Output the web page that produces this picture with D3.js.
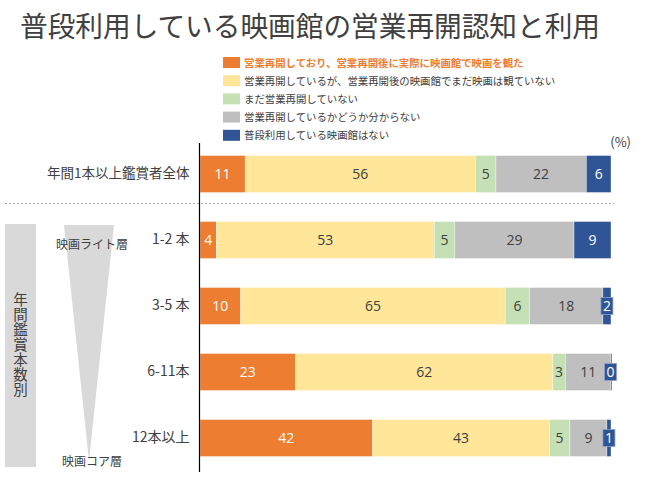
<!DOCTYPE html>
<html><head><meta charset="utf-8">
<script src="https://cdn.jsdelivr.net/npm/d3@7"></script>
<style>body{margin:0;background:#fff}svg{display:block;font-family:"Noto Sans CJK JP","Noto Sans",sans-serif}</style>
</head><body><svg id="c" width="650" height="480"></svg>
<script>
const title = "普段利用している映画館の営業再開認知と利用";
const categories = ["年間1本以上鑑賞者全体", "1-2 本", "3-5 本", "6-11本", "12本以上"];
const seriesNames = [
  "営業再開しており、営業再開後に実際に映画館で映画を観た",
  "営業再開しているが、営業再開後の映画館でまだ映画は観ていない",
  "まだ営業再開していない",
  "営業再開しているかどうか分からない",
  "普段利用している映画館はない"
];
const seriesColors = ["#ED7D31", "#FFE699", "#C5E0B4", "#BFBFBF", "#2F5597"];
const labelColors = ["#ffffff", "#404040", "#404040", "#404040", "#ffffff"];
// values per series, one per category (%)
const watched    = [11, 4, 10, 23, 42];
const notYet     = [56, 53, 65, 62, 43];
const notOpen    = [5, 5, 6, 3, 5];
const unknown    = [22, 29, 18, 11, 9];
const noTheater  = [6, 9, 2, 0, 1];
const seriesValues = [watched, notYet, notOpen, unknown, noTheater];
const sideLabel = "年間鑑賞本数別";
const lightLabel = "映画ライト層";
const coreLabel = "映画コア層";

const svg = d3.select("#c");
const x = d3.scaleLinear().domain([0, 100]).range([200, 611]);
const y = d3.scaleBand().domain(categories).range([141, 471]).paddingInner(0.44).paddingOuter(0.22);

// title
svg.append("text").attr("x", 20).attr("y", 37).attr("font-size", 28.5).attr("fill", "#404040")
  .attr("textLength", 580).attr("lengthAdjust", "spacingAndGlyphs").text(title);

// legend
seriesNames.forEach((n, i) => {
  const ly = 57 + i * 18.2;
  svg.append("rect").attr("x", 223).attr("y", ly).attr("width", 17).attr("height", 11).attr("fill", seriesColors[i]);
  svg.append("text").attr("x", 244).attr("y", ly + 9.5).attr("font-size", 10.4)
    .attr("fill", i === 0 ? "#ED7D31" : "#404040").attr("font-weight", i === 0 ? "bold" : "normal").text(n);
});
svg.append("text").attr("x", 631).attr("y", 147).attr("text-anchor", "end").attr("font-size", 13).attr("fill", "#404040").text("(%)");

// left side decorations
svg.append("rect").attr("x", 5).attr("y", 224).attr("width", 31).attr("height", 243).attr("fill", "#d9d9d9");
svg.append("text").attr("x", 20.5).attr("y", 345).attr("font-size", 14.5).attr("fill", "#404040")
  .attr("text-anchor", "middle").attr("writing-mode", "tb").style("letter-spacing", "0.5px").text(sideLabel);
svg.append("path").attr("d", "M64,225 L114,225 L89,461 Z").attr("fill", "#d9d9d9");
svg.append("text").attr("x", 92).attr("y", 249).attr("text-anchor", "middle").attr("font-size", 12).attr("fill", "#404040").text(lightLabel);
svg.append("text").attr("x", 92).attr("y", 466).attr("text-anchor", "middle").attr("font-size", 12).attr("fill", "#404040").text(coreLabel);

// dashed separator
svg.append("line").attr("x1", 5).attr("x2", 614).attr("y1", 203.5).attr("y2", 203.5)
  .attr("stroke", "#a6a6a6").attr("stroke-width", 1).attr("stroke-dasharray", "2,2");

// stack
const rows = categories.map((c, ci) => {
  const vals = seriesValues.map(s => s[ci]);
  const total = d3.sum(vals);
  let acc = 0;
  return vals.map((v, si) => {
    const seg = {cat: c, si, v, x0: acc / total * 100, x1: (acc + v) / total * 100};
    acc += v;
    return seg;
  });
});
const segs = rows.flat();
svg.append("g").selectAll("rect").data(segs).join("rect")
  .attr("x", d => x(d.x0)).attr("y", d => y(d.cat))
  .attr("width", d => Math.max(x(d.x1) - x(d.x0), d.si === 4 ? 1 : 0))
  .attr("height", y.bandwidth())
  .attr("fill", d => seriesColors[d.si])
  .attr("stroke", "#ffffff").attr("stroke-width", 0.6).attr("stroke-opacity", 0.6);

// labels
segs.forEach(d => {
  const w = x(d.x1) - x(d.x0);
  let cx = (x(d.x0) + x(d.x1)) / 2;
  const cy = y(d.cat) + y.bandwidth() / 2;
  if (d.si === 4 && w < 14) {
    cx = Math.min(cx, x(100) - 0.5);
    svg.append("rect").attr("x", cx - 6).attr("y", cy - 8.5).attr("width", 12).attr("height", 17)
      .attr("fill", seriesColors[4]).attr("stroke", "#8ea0c8").attr("stroke-width", 0.8);
  }
  svg.append("text").attr("x", cx).attr("y", cy + 5).attr("text-anchor", "middle")
    .attr("font-size", 14).attr("font-family", "'Open Sans','Noto Sans',sans-serif")
    .attr("fill", labelColors[d.si]).text(d.v);
});

// axis (vertical line + category labels)
const axis = d3.axisLeft(y).tickSize(0).tickPadding(10);
const ag = svg.append("g").attr("transform", "translate(199.5,0)").call(axis);
ag.select(".domain").remove();
ag.append("line").attr("x1", 0).attr("x2", 0).attr("y1", 143).attr("y2", 472).attr("stroke", "#000").attr("stroke-width", 1.2);
ag.selectAll(".tick text").attr("font-size", d => d === categories[0] ? 13.5 : 14)
  .attr("fill", "#404040").attr("font-family", "'Noto Sans CJK JP',sans-serif");
</script></body></html>
